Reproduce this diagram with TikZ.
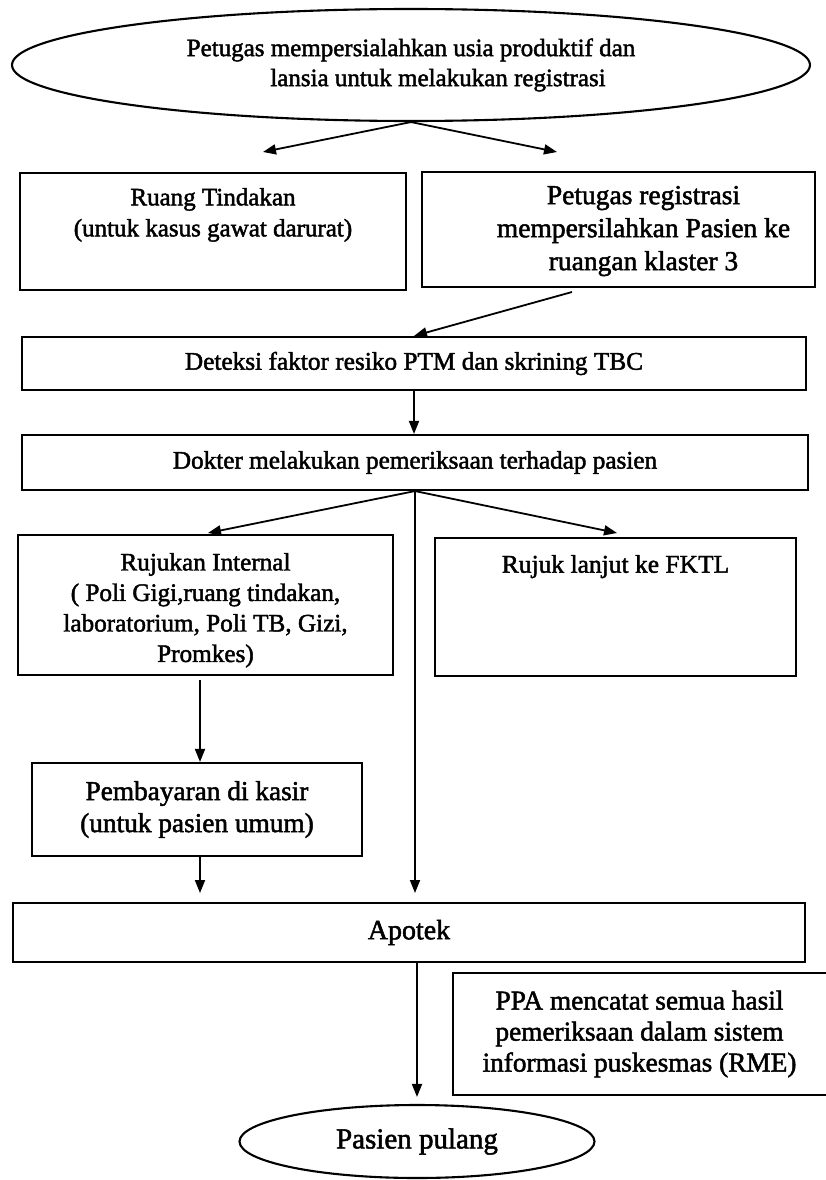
\documentclass[tikz,border=0pt]{standalone}
\usepackage{fontspec}
\setmainfont[FakeBold=1.8]{Liberation Serif}
\usetikzlibrary{arrows.meta,shapes.geometric,calc}
% top-aligned box text: width, height, top pad, left offset, text
\newcommand\tbx[5]{\parbox[c][#2][t]{#1}{\vspace*{#3}\centering\hspace*{#4}\parbox[t]{\dimexpr#1-#4\relax}{\centering #5}}}
\begin{document}
\begin{tikzpicture}[x=1pt,y=-1pt,
  box/.style={draw, rectangle, line width=2.1pt, inner sep=0pt, align=center},
  ell/.style={draw, ellipse, line width=2.1pt, inner sep=0pt, align=center},
  arr/.style={-{Triangle[length=13pt,width=10pt]}, line width=1.8pt}]
\useasboundingbox (0,0) rectangle (826,1180);
\fill[white] (0,0) rectangle (826,1180);

\node[ell, minimum width=798pt, minimum height=112pt, font=\fontsize{25}{30}\selectfont] (start) at (411,65)
  {Petugas mempersialahkan usia produktif dan\\\hspace*{54pt}lansia untuk melakukan registrasi};

\node[box, font=\fontsize{25}{31}\selectfont] (ruang) at (213,231.5)
  {\tbx{386pt}{117pt}{15pt}{0pt}{Ruang Tindakan\\(untuk kasus gawat darurat)}};
\node[box, font=\fontsize{27.5}{33}\selectfont] (reg) at (618.5,229.5)
  {\tbx{393pt}{115pt}{14pt}{50pt}{Petugas registrasi\\mempersilahkan Pasien ke\\ruangan klaster 3}};

\node[box, minimum width=784pt, minimum height=53pt, font=\fontsize{25.3}{30}\selectfont] (det) at (414,363.5)
  {Deteksi faktor resiko PTM dan skrining TBC};
\node[box, minimum width=786pt, minimum height=55pt, font=\fontsize{25.2}{30}\selectfont] (dok) at (415,462.5)
  {Dokter melakukan pemeriksaan terhadap pasien};

\node[box, font=\fontsize{25.2}{30.5}\selectfont] (rin) at (205.5,605)
  {\tbx{375pt}{140pt}{18pt}{0pt}{Rujukan Internal\\( Poli Gigi,ruang tindakan,\\laboratorium, Poli TB, Gizi,\\Promkes)}};
\node[box, font=\fontsize{25.5}{30}\selectfont] (fktl) at (615.5,607)
  {\tbx{361pt}{138pt}{17pt}{0pt}{Rujuk lanjut ke FKTL}};

\node[box, minimum width=330pt, minimum height=93pt, font=\fontsize{27.3}{32}\selectfont] (byr) at (197,809.5)
  {Pembayaran di kasir\\(untuk pasien umum)};

\node[box, minimum width=792pt, minimum height=59pt, font=\fontsize{28}{32}\selectfont] (apo) at (409,932.5)
  {Apotek};

\node[rectangle, inner sep=0pt, align=center, minimum width=373pt, minimum height=122pt, font=\fontsize{27.3}{31}\selectfont] (ppa) at (639.5,1034)
  {PPA mencatat semua hasil\\pemeriksaan dalam sistem\\informasi puskesmas (RME)};
\draw[line width=2.1pt] (ppa.north east) -- (ppa.north west) -- (ppa.south west) -- (ppa.south east);

\node[ell, minimum width=355pt, minimum height=73pt, font=\fontsize{29}{32}\selectfont] (pulang) at (417,1141.5)
  {Pasien pulang};

% connectors
\coordinate (a1) at (263,152);
\coordinate (a2) at (557,152);
\draw[arr] (start.south) -- (a1);
\draw[arr] (start.south) -- (a2);

\coordinate (b1) at (572,292);
\draw[arr] (b1) -- (det.north);

\draw[arr] (det.south) -- (det.south |- dok.north);

\coordinate (c1) at (208,533);
\coordinate (d1) at (617,533);
\coordinate (ap1) at (415,893);
\draw[arr] (dok.south) -- (c1);
\draw[arr] (dok.south) -- (d1);
\draw[arr] (dok.south) -- (ap1);

\coordinate (c2) at (200,680);
\draw[arr] (c2) -- (c2 |- byr.north);

\coordinate (e1) at (200,893);
\draw[arr] (byr.south -| e1) -- (e1);

\draw[arr, shorten >=7pt] (apo.south -| pulang.north) -- (pulang.north);
\end{tikzpicture}
\end{document}
